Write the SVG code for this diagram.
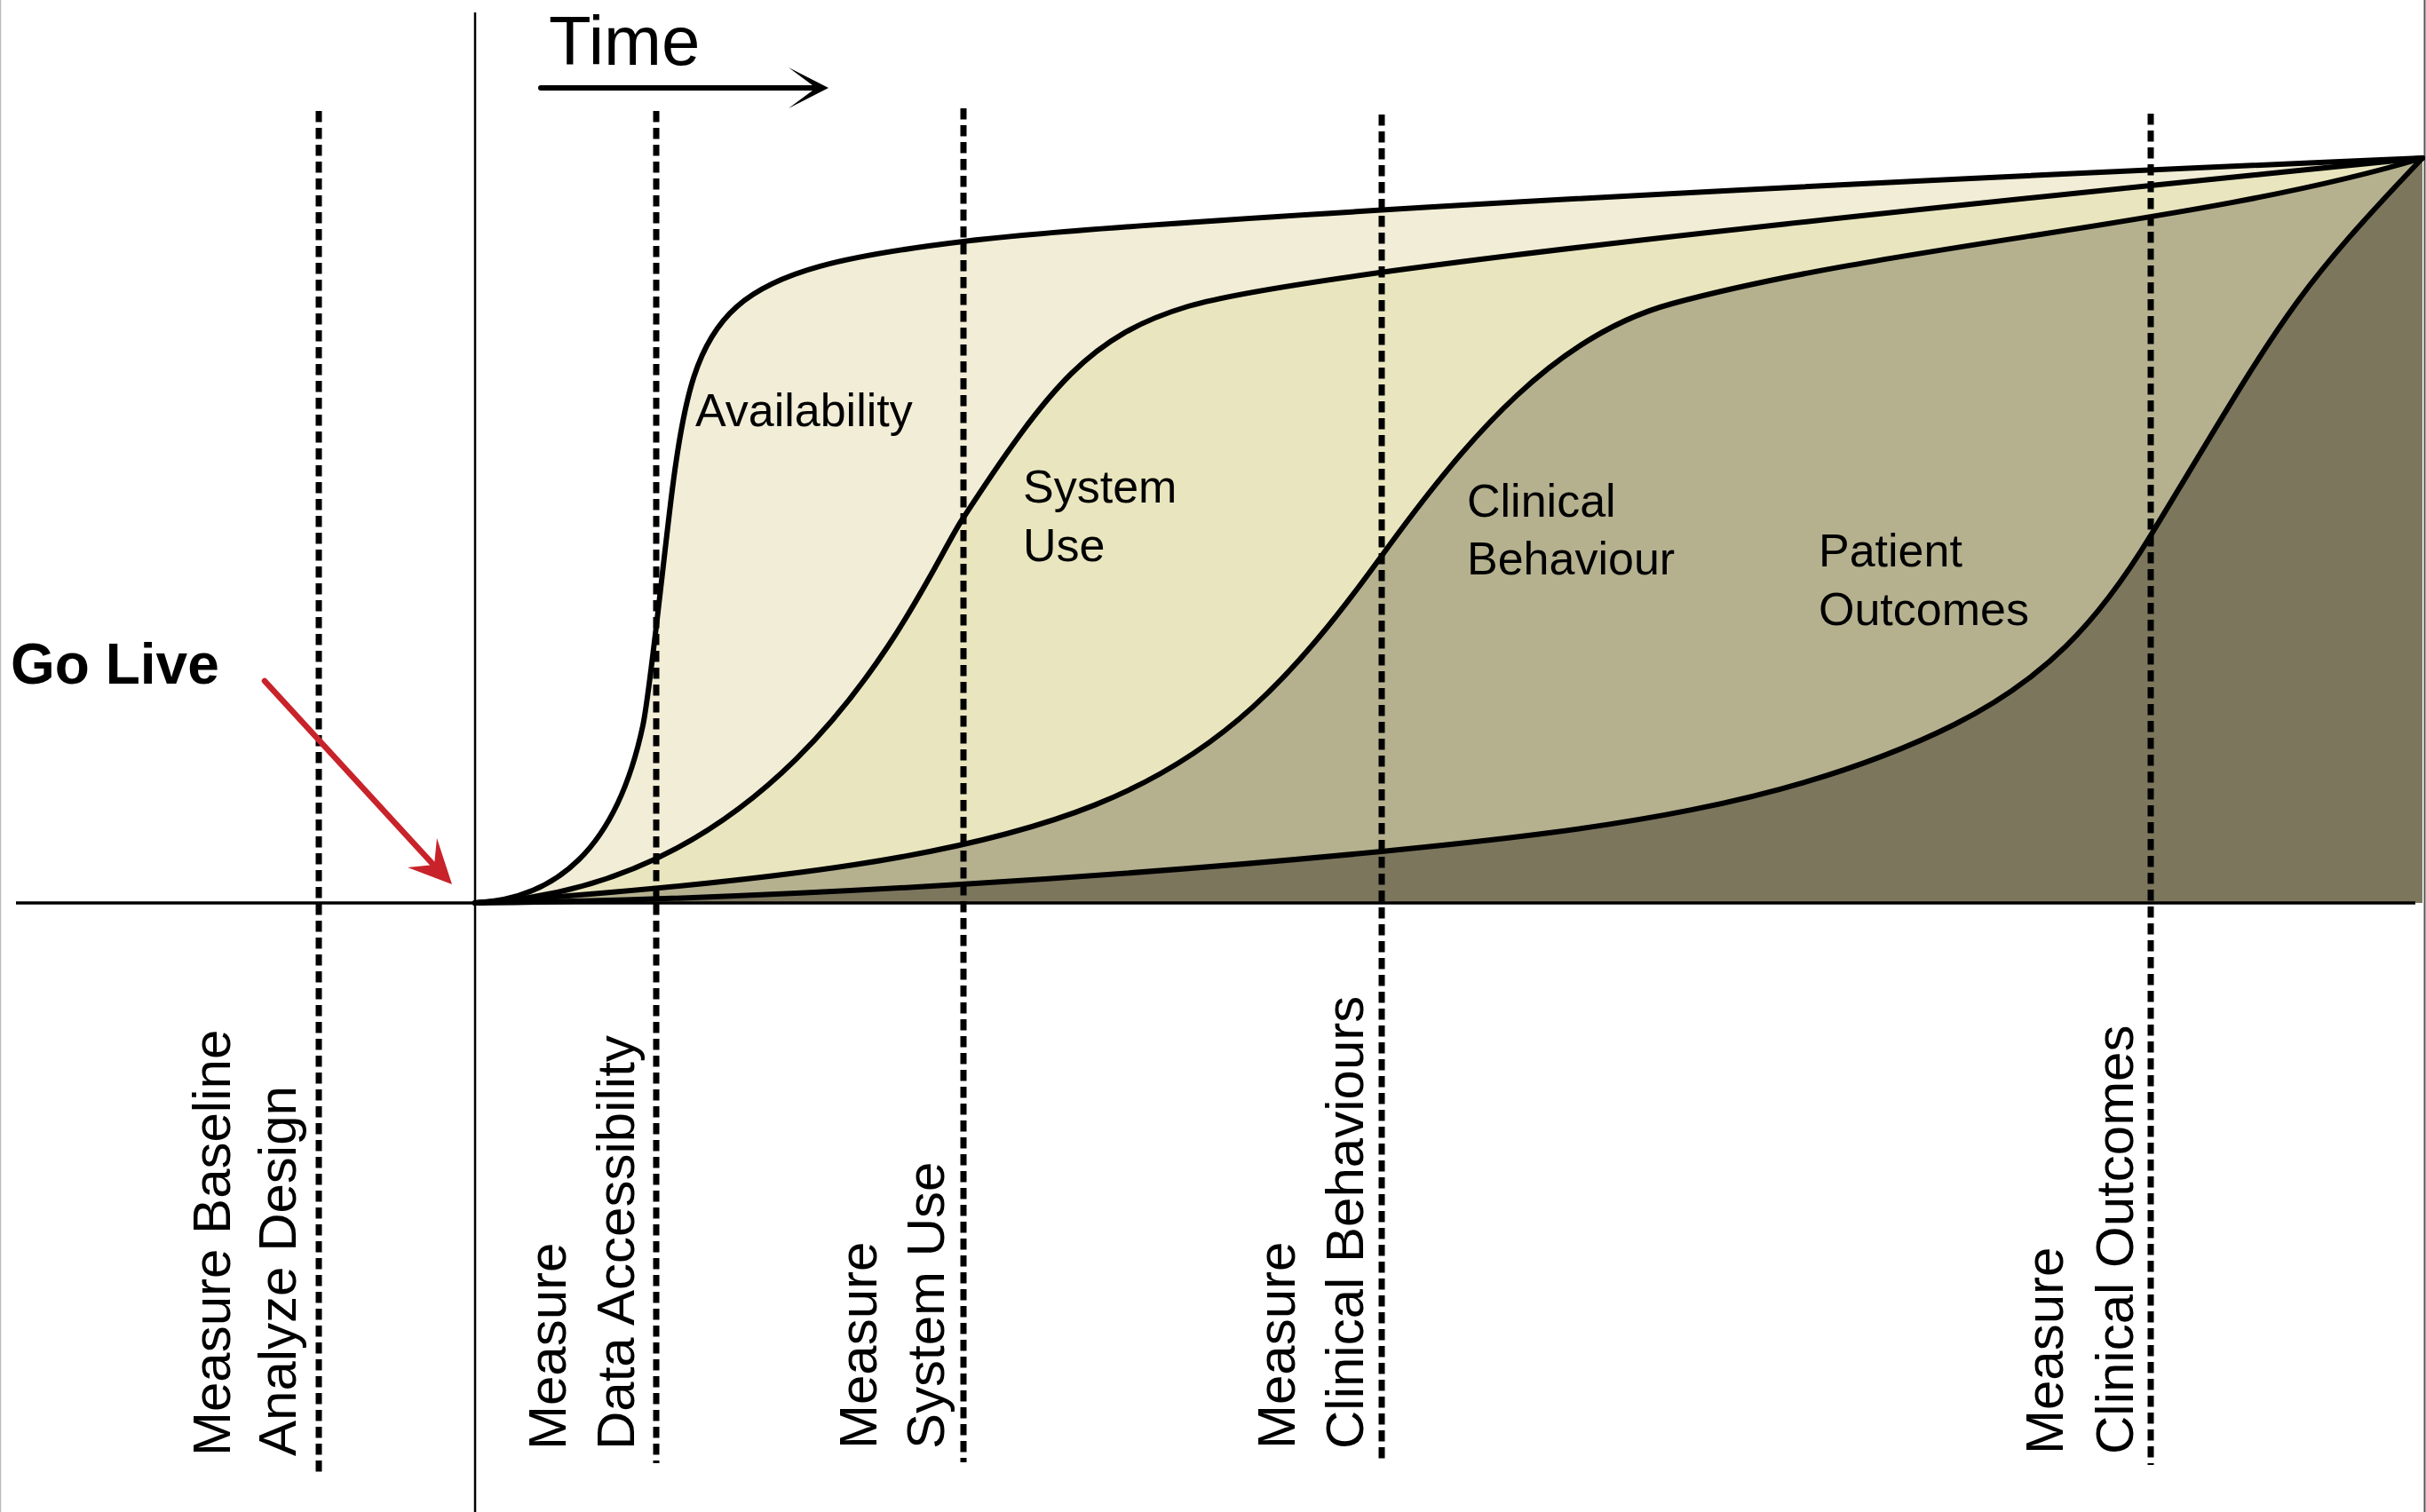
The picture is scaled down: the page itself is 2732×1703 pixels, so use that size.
<svg xmlns="http://www.w3.org/2000/svg" width="2732" height="1703" viewBox="0 0 2732 1703">
<style>
.curve{fill:none;stroke:#000;stroke-width:6;stroke-linejoin:round;stroke-linecap:round}
.dash{fill:none;stroke:#000;stroke-width:7;stroke-dasharray:12.5 6.5}
.lbl{font-family:"Liberation Sans",Arial,sans-serif;font-size:52px;fill:#000}
.vl{font-family:"Liberation Sans",Arial,sans-serif;font-size:60px;fill:#000}
</style>
<rect x="0" y="0" width="2732" height="1703" fill="#fff"/>
<line x1="0.5" y1="0" x2="0.5" y2="1703" stroke="#bbb" stroke-width="1.5"/>
<line x1="2730.5" y1="0" x2="2730.5" y2="1703" stroke="#555" stroke-width="2"/>

<g id="areas">
<path id="fill-availability" fill="#F1EDD6" d="M535,1017 C625,1012.5 694,958 724,817 C732,779.4 747,631 757,552 C783.5,342 815,304.4 1085,272 C1200,257.5 1700,222 2728,178 L2728,1017 Z"/>
<path id="fill-systemuse" fill="#E9E6BF" d="M535,1017 C900,1000 1040,652 1083,586 C1183,433 1228,378 1338,345 C1398,327 1580,302.8 1700,288 C2000,251 2428,208 2728,178 L2728,1017 Z"/>
<path id="fill-clinical" fill="#B5B18F" d="M535,1017 C1235,968 1356,902 1556,626 C1656,488 1753,377 1883,342 C2133,274.5 2478,253 2728,178 L2728,1017 Z"/>
<path id="fill-patient" fill="#7C765D" d="M535,1017 C900,1013 1300,983.8 1556,959 C1806,934.75 2021,906 2201,816 C2301,766 2362,702 2422,603 C2572,355.5 2578,335.5 2728,178 L2728,1017 Z"/>
</g>

<g id="axes">
<line x1="535" y1="14" x2="535" y2="1703" stroke="#000" stroke-width="2.5"/>
<line x1="18" y1="1017" x2="2720" y2="1017" stroke="#000" stroke-width="3.5"/>
</g>

<g id="measure-lines">
<line class="dash" x1="359" y1="125" x2="359" y2="1660"/>
<line class="dash" x1="739" y1="125" x2="739" y2="1648"/>
<line class="dash" x1="1085" y1="122" x2="1085" y2="1647"/>
<line class="dash" x1="1556" y1="129" x2="1556" y2="1644"/>
<line class="dash" x1="2422" y1="128" x2="2422" y2="1650"/>
</g>

<g id="connectors">
<path id="curve-availability" class="curve" d="M535,1017 C625,1012.5 694,958 724,817 C732,779.4 747,631 757,552 C783.5,342 815,304.4 1085,272 C1200,257.5 1700,222 2728,178"/>
<path id="curve-systemuse" class="curve" d="M535,1017 C900,1000 1040,652 1083,586 C1183,433 1228,378 1338,345 C1398,327 1580,302.8 1700,288 C2000,251 2428,208 2728,178"/>
<path id="curve-clinical" class="curve" d="M535,1017 C1235,968 1356,902 1556,626 C1656,488 1753,377 1883,342 C2133,274.5 2478,253 2728,178"/>
<path id="curve-patient" class="curve" d="M535,1017 C900,1013 1300,983.8 1556,959 C1806,934.75 2021,906 2201,816 C2301,766 2362,702 2422,603 C2572,355.5 2578,335.5 2728,178"/>
<line x1="609" y1="99" x2="922" y2="99" stroke="#000" stroke-width="6" stroke-linecap="round"/>
<path d="M933,99 L888,76 L919,99 L888,122 Z" fill="#000"/>
<line x1="298" y1="767" x2="489" y2="975" stroke="#C8232A" stroke-width="6.5" stroke-linecap="round"/>
<path d="M509,996 L492,944 L489,974 L459,977 Z" fill="#C8232A"/>
</g>

<g id="title-time"><text x="618" y="73" font-family="Liberation Sans, Arial, sans-serif" font-size="78">Time</text></g>
<g id="go-live"><text x="12" y="770" font-family="Liberation Sans, Arial, sans-serif" font-size="64" font-weight="bold">Go Live</text></g>

<g id="label-availability"><text class="lbl" x="783" y="480">Availability</text></g>
<g id="label-systemuse"><text class="lbl" x="1152" y="566">System</text><text class="lbl" x="1152" y="632">Use</text></g>
<g id="label-clinical"><text class="lbl" x="1652" y="582">Clinical</text><text class="lbl" x="1652" y="647">Behaviour</text></g>
<g id="label-patient"><text class="lbl" x="2048" y="638">Patient</text><text class="lbl" x="2048" y="704">Outcomes</text></g>

<g id="m-baseline" transform="translate(259,1640) rotate(-90)"><text class="vl" x="0" y="0">Measure Baseline</text><text class="vl" x="0" y="74">Analyze Design</text></g>
<g id="m-data" transform="translate(637,1633) rotate(-90)"><text class="vl" x="0" y="0">Measure</text><text class="vl" x="0" y="77">Data Accessibility</text></g>
<g id="m-system" transform="translate(987,1632) rotate(-90)"><text class="vl" x="0" y="0">Measure</text><text class="vl" x="0" y="76">System Use</text></g>
<g id="m-clinical" transform="translate(1458,1632) rotate(-90)"><text class="vl" x="0" y="0">Measure</text><text class="vl" x="0" y="77">Clinical Behaviours</text></g>
<g id="m-outcomes" transform="translate(2323,1638) rotate(-90)"><text class="vl" x="0" y="0">Measure</text><text class="vl" x="0" y="79">Clinical Outcomes</text></g>
</svg>
